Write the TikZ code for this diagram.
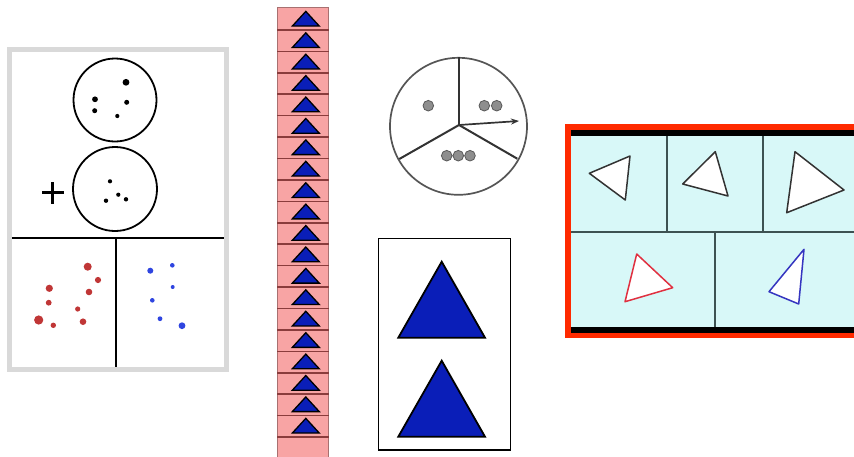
\documentclass[tikz,border=0pt]{standalone}
\usetikzlibrary{arrows.meta}
\definecolor{panelgray}{HTML}{D9D9D9}
\definecolor{dotred}{HTML}{C03636}
\definecolor{dotblue}{HTML}{2F45E0}
\definecolor{strippink}{HTML}{F8A4A4}
\definecolor{stripline}{HTML}{8A3C3C}
\definecolor{stripside}{HTML}{A87070}
\definecolor{triblue}{HTML}{0A1EB8}
\definecolor{piegray}{HTML}{555555}
\definecolor{pielines}{HTML}{333333}
\definecolor{piedot}{HTML}{8E8E8E}
\definecolor{frred}{HTML}{FF2A00}
\definecolor{cyanbg}{HTML}{D8F8F8}
\definecolor{cellline}{HTML}{3D5252}
\definecolor{trired}{HTML}{E03040}
\definecolor{triblu}{HTML}{3535C0}
\tikzset{
  bigcirc/.style={draw=black, line width=1.8pt},
  bdot/.style={fill=black},
  rdot/.style={fill=dotred},
  bldot/.style={fill=dotblue},
  stripcell/.style={draw=stripline, line width=1.6pt},
  striptri/.style={fill=triblue, draw=black, line width=1.3pt, line join=miter},
  bigtri/.style={fill=triblue, draw=black, line width=1.8pt},
  gdot/.style={fill=piedot, draw=gray!70!black, line width=0.8pt},
  cell/.style={draw=cellline, line width=1.9pt},
  wtri/.style={fill=white, draw=black!80, line width=1.5pt, line join=round},
}
\begin{document}
\begin{tikzpicture}[x=1pt,y=-1pt]
\useasboundingbox (0,0) rectangle (854,456);
\fill[white] (0,0) rectangle (854,456);

% ---------- left panel ----------
\draw[panelgray, line width=5pt] (9.5,49.5) rectangle (226.5,369.5);
\draw[black, line width=1.8pt] (12,238) -- (224,238);
\draw[black, line width=1.8pt] (116,238) -- (116,367);
\node[bigcirc, circle, minimum size=83pt, inner sep=0pt] (c1) at (115,100) {};
\node[bigcirc, circle, minimum size=84pt, inner sep=0pt] (c2) at (115,189) {};
\fill[bdot] (126,82.3) circle (3.4) (95,99.3) circle (2.9) (126.7,102.3) circle (2.5)
  (94.7,110.7) circle (2.5) (117.3,116) circle (2.1);
\fill[bdot] (110,181.3) circle (2.1) (118.3,194.7) circle (2.1) (126,199.3) circle (2.2) (106,200.7) circle (2.2);
\draw[line width=3.2pt] (42,192.7) -- (63.5,192.7) (52.7,182) -- (52.7,203.5);
\fill[rdot] (87.7,266.7) circle (4) (98,280) circle (3.1) (49.3,288.3) circle (3.6)
  (89,292) circle (3.3) (48.7,302.7) circle (2.9) (77.7,309) circle (2.6)
  (38.7,320) circle (4.6) (83,321.7) circle (3.3) (53.3,325.3) circle (2.7);
\fill[bldot] (150.3,270.7) circle (3) (172.3,265.3) circle (2.3) (172.7,287) circle (2)
  (152.3,300.3) circle (2.3) (160,318.7) circle (2.4) (182,325.7) circle (3.4);

% ---------- strip ----------
\fill[strippink] (277,7) rectangle (329,460);
\draw[stripside, line width=1.4pt] (277.5,7) -- (277.5,460) (328.5,7) -- (328.5,460) (277,7.5) -- (329,7.5);
\foreach \i in {0,...,19} {
  \pgfmathsetmacro\yb{30+21.42*\i}
  \draw[stripcell] (277,\yb) -- (329,\yb);
  \pgfmathsetmacro\yt{\yb-21.42}
  \draw[striptri] (292.3,\yt+17.5) -- (305.8,\yt+2.8) -- (319.3,\yt+17.5) -- cycle;
}

% ---------- pie ----------
\node[circle, draw=piegray, line width=1.7pt, minimum size=137pt, inner sep=0pt] (pie) at (458.5,126.3) {};
\coordinate (pc) at (459,125);
\draw[pielines, line width=2pt] (pc) -- (pie.north -| pc);
\draw[pielines, line width=2pt] (pc) -- (399.3,159);
\draw[pielines, line width=2pt] (pc) -- (517.3,158.7);
\draw[pielines, line width=1.7pt, -{Stealth[length=8pt,width=6pt]}] (pc) -- (519,121);
\path[gdot] (428.3,105.7) circle (5.3) (484.3,105.7) circle (5.3) (496.7,105.7) circle (5.3)
  (446.7,155.7) circle (5.3) (458.3,155.7) circle (5.3) (470,155.7) circle (5.3);

% ---------- box with two triangles ----------
\draw[black, line width=1.8pt] (378.5,238.5) rectangle (510.5,450);
\draw[bigtri] (398.3,337.7) -- (441.7,261.7) -- (485,337.7) -- cycle;
\draw[bigtri] (398.3,436.7) -- (441.7,360.7) -- (485,436.7) -- cycle;

% ---------- right panel ----------
\fill[frred] (565,124) rectangle (860,338.3);
\fill[black] (571,130) rectangle (860,136);
\fill[black] (571,327.3) rectangle (860,333.3);
\fill[cyanbg] (571,136) rectangle (860,327.3);
\draw[cell] (571,231.7) -- (860,231.7);
\draw[cell] (667.3,136) -- (667.3,231.7);
\draw[cell] (763.3,136) -- (763.3,231.7);
\draw[cell] (715.3,231.7) -- (715.3,327.3);
\draw[wtri] (589.3,173.3) -- (630,156) -- (625.3,200) -- cycle;
\draw[wtri] (682.7,184) -- (715.3,151.7) -- (728,196) -- cycle;
\draw[wtri] (795,151.7) -- (844,190) -- (786.7,212.7) -- cycle;
\draw[wtri, draw=trired] (636.7,254) -- (672.7,287.7) -- (625,301.7) -- cycle;
\draw[wtri, draw=triblu] (804,249.3) -- (798.7,304) -- (769,291.7) -- cycle;
\end{tikzpicture}
\end{document}
